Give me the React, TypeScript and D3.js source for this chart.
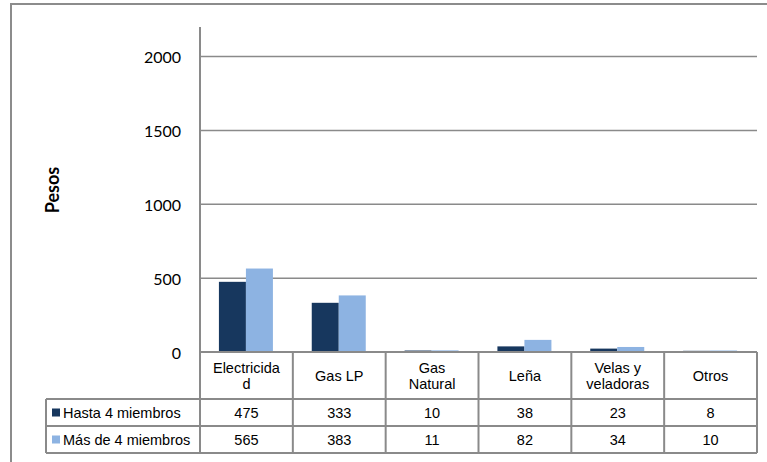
import React from "react";
import * as d3 from "d3";

// data
const categories = ["Electricidad", "Gas LP", "Gas Natural", "Leña", "Velas y veladoras", "Otros"];
const headerLines = [["Electricida", "d"], ["Gas LP"], ["Gas", "Natural"], ["Leña"], ["Velas y", "veladoras"], ["Otros"]];
const seriesNames = ["Hasta 4 miembros", "Más de 4 miembros"];
const hasta4 = [475, 333, 10, 38, 23, 8];
const mas4 = [565, 383, 11, 82, 34, 10];
const yTicks = [0, 500, 1000, 1500, 2000];

const W = 767;
const H = 462;
const colors = ["#17375E", "#8DB3E2"];
const gridColor = "#8a8a8a";
const tableFont = "'Liberation Sans', Arial, sans-serif";
const axisFont = "Lato, 'Open Sans', sans-serif";

export default function App() {
  const series = [hasta4, mas4];
  const plot = { left: 200, right: 757, top: 27, bottom: 352 };
  const rowH = 27;
  const headerBottom = 399;
  const tableLeft = 46;

  const y = d3.scaleLinear().domain([0, 2200]).range([plot.bottom, plot.top]);
  const x = d3.scaleBand<string>().domain(categories).range([plot.left, plot.right]);
  const groupW = 54;
  const x1 = d3
    .scaleBand<string>()
    .domain(seriesNames)
    .range([(x.bandwidth() - groupW) / 2 - 0.5, (x.bandwidth() + groupW) / 2 - 0.5]);

  const rowTops = [headerBottom, headerBottom + rowH];
  const tableBottom = headerBottom + 2 * rowH;

  return (
    <svg width={W} height={H} style={{ position: "absolute", left: 0, top: 0 }}>
      <rect width={W} height={H} fill="#fff" />
      {/* outer chart frame */}
      <rect x={11} y={4} width={W + 10} height={H + 10} fill="none" stroke="#8c8c8c" strokeWidth={2} />

      {/* gridlines */}
      {yTicks.filter((t) => t > 0).map((t) => (
        <line key={t} x1={plot.left} x2={plot.right} y1={y(t)} y2={y(t)} stroke={gridColor} strokeWidth={1.5} />
      ))}
      {yTicks.map((t) => (
        <text
          key={"l" + t}
          x={181}
          y={y(t)}
          textAnchor="end"
          dominantBaseline="central"
          fontFamily={axisFont}
          fontSize={16}
          fill="#000"
        >
          {t}
        </text>
      ))}
      <text
        transform={`translate(52, 190) rotate(-90)`}
        textAnchor="middle"
        dominantBaseline="central"
        fontFamily={axisFont}
        fontWeight="bold"
        fontSize={18}
        fill="#000"
      >
        Pesos
      </text>

      {/* bars */}
      {categories.map((c, i) => (
        <g key={c} transform={`translate(${x(c)},0)`}>
          {series.map((s, j) => (
            <rect
              key={j}
              x={x1(seriesNames[j])}
              y={y(s[i])}
              width={x1.bandwidth()}
              height={y(0) - y(s[i])}
              fill={colors[j]}
            />
          ))}
        </g>
      ))}

      {/* y axis line */}
      <line x1={plot.left} x2={plot.left} y1={plot.top} y2={tableBottom} stroke={gridColor} strokeWidth={2} />

      {/* data table */}
      <g stroke={gridColor} strokeWidth={2}>
        <line x1={plot.left} x2={plot.right} y1={plot.bottom} y2={plot.bottom} />
        {[headerBottom, headerBottom + rowH, tableBottom].map((yy) => (
          <line key={yy} x1={tableLeft} x2={plot.right} y1={yy} y2={yy} />
        ))}
        <line x1={tableLeft} x2={tableLeft} y1={headerBottom} y2={tableBottom} />
        {categories.map((c) => (
          <line key={c} x1={x(c)! + x.bandwidth()} x2={x(c)! + x.bandwidth()} y1={plot.bottom} y2={tableBottom} />
        ))}
      </g>

      {categories.map((c, i) => {
        const cx = x(c)! + x.bandwidth() / 2;
        const lines = headerLines[i];
        const mid = (plot.bottom + headerBottom) / 2;
        return (
          <g key={c} fontFamily={tableFont} fontSize={14.5} fill="#000" textAnchor="middle">
            {lines.map((ln, k) => (
              <text key={k} x={cx} y={mid + (k - (lines.length - 1) / 2) * 16} dominantBaseline="central">
                {ln}
              </text>
            ))}
            {series.map((s, j) => (
              <text key={"v" + j} x={cx} y={rowTops[j] + rowH / 2} dominantBaseline="central">
                {s[i]}
              </text>
            ))}
          </g>
        );
      })}

      {seriesNames.map((n, j) => (
        <g key={n}>
          <rect x={52} y={rowTops[j] + rowH / 2 - 4} width={8} height={8} fill={colors[j]} />
          <text
            x={63}
            y={rowTops[j] + rowH / 2}
            dominantBaseline="central"
            fontFamily={tableFont}
            fontSize={14.5}
            fill="#000"
          >
            {n}
          </text>
        </g>
      ))}
    </svg>
  );
}
